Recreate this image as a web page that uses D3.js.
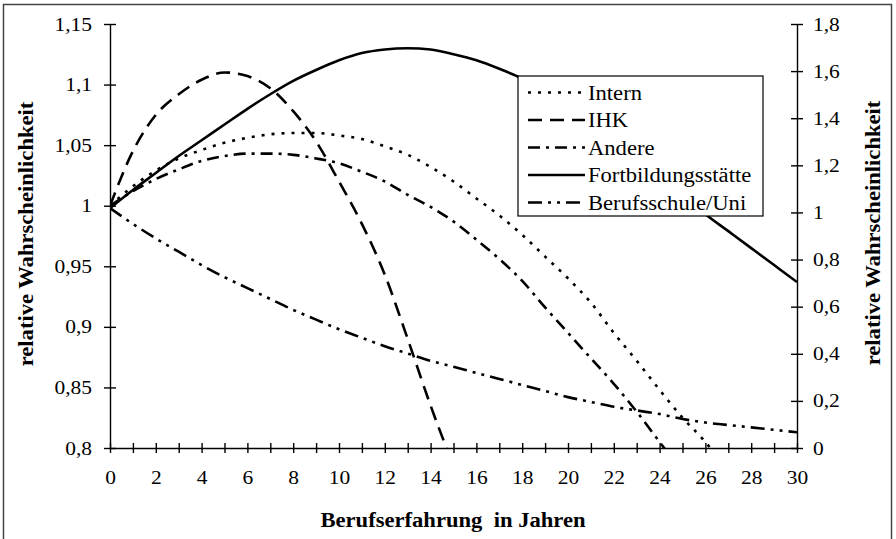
<!DOCTYPE html>
<html>
<head>
<meta charset="utf-8">
<script src="https://cdn.jsdelivr.net/npm/d3@7/dist/d3.min.js"></script>
<style>
body { margin: 0; background: #fff; }
svg text { font-family: "Liberation Serif", Tinos, "Times New Roman", "DejaVu Serif", serif !important; fill: #000; }
</style>
</head>
<body>
<script>
// values (left axis scale)
const years = [0,1,2,3,4,5,6,7,8,9,10,11,12,13,14,15,16,17,18,19,20,21,22,23,24,25,26,27,28,29,30];
const intern = [1.0,1.016,1.029,1.039,1.046,1.052,1.056,1.059,1.06,1.06,1.058,1.055,1.049,1.042,1.032,1.02,1.006,0.992,0.976,0.958,0.94,0.92,0.895,0.872,0.848,0.825,0.805,0.78];
const ihk = [1.0,1.045,1.075,1.092,1.104,1.11,1.107,1.097,1.078,1.053,1.02,0.985,0.943,0.89,0.835,0.785];
const andere = [1.0,1.012,1.022,1.03,1.037,1.041,1.043,1.043,1.042,1.039,1.035,1.028,1.02,1.009,0.999,0.987,0.972,0.956,0.938,0.916,0.895,0.874,0.853,0.83,0.805,0.78];
const fortbildung = [0.998,1.013,1.027,1.041,1.054,1.067,1.08,1.092,1.103,1.112,1.12,1.126,1.129,1.13,1.129,1.125,1.12,1.113,1.105,1.095,1.084,1.071,1.057,1.042,1.026,1.009,0.993,0.979,0.965,0.951,0.937];
const berufsschule = [0.998,0.985,0.973,0.962,0.951,0.941,0.932,0.923,0.914,0.906,0.898,0.891,0.884,0.878,0.872,0.867,0.862,0.857,0.852,0.847,0.842,0.838,0.834,0.831,0.828,0.824,0.821,0.819,0.817,0.815,0.813];
const seriesNames = ["Intern","IHK","Andere","Fortbildungsstätte","Berufsschule/Uni"];
const leftTicks = [0.8,0.85,0.9,0.95,1,1.05,1.1,1.15];
const rightTicks = [0,0.2,0.4,0.6,0.8,1,1.2,1.4,1.6,1.8];
const xLabels = [0,2,4,6,8,10,12,14,16,18,20,22,24,26,28,30];

const w = 896;
const h = 539;
const plotLeft = 110, plotRight = 797, plotTop = 24, plotBottom = 448;

const svg = d3.select("body")
  .append("svg")
  .attr("width", w)
  .attr("height", h);

// outer frame of the scanned figure
svg.append("rect")
  .attr("x", 3.5).attr("y", 4.5)
  .attr("width", 888).attr("height", 545)
  .attr("fill", "none")
  .attr("stroke", "#444")
  .attr("stroke-width", 1.5);

const xScale = d3.scaleLinear().domain([0, 30]).range([plotLeft, plotRight]);
const yScale = d3.scaleLinear().domain([0.8, 1.15]).range([plotBottom, plotTop]);
const y2Scale = d3.scaleLinear().domain([0, 1.8]).range([plotBottom, plotTop]);

const comma = d => String(+d.toFixed(2)).replace(".", ",");

function widen(sel, k) {
  sel.each(function(){
    const len = this.getComputedTextLength();
    d3.select(this).attr("textLength", len * k).attr("lengthAdjust", "spacingAndGlyphs");
  });
}

// lines
svg.append("clipPath").attr("id", "plot")
  .append("rect")
  .attr("x", plotLeft).attr("y", plotTop)
  .attr("width", plotRight - plotLeft).attr("height", plotBottom - plotTop);

const dashes = ["3,7", "14,8", "12,6,3,6", null, "14,6,3,6,3,6"];
const allSeries = [intern, ihk, andere, fortbildung, berufsschule];

const line = d3.line()
  .x((d, i) => xScale(years[i]))
  .y(d => yScale(d))
  .curve(d3.curveMonotoneX);

svg.append("g")
  .attr("clip-path", "url(#plot)")
  .selectAll("path")
  .data(allSeries)
  .enter()
  .append("path")
  .attr("d", d => line(d))
  .attr("fill", "none")
  .attr("stroke", "#000")
  .attr("stroke-width", 2.6)
  .attr("stroke-dasharray", (d, i) => dashes[i]);

// axes
const yAxis = svg.append("g")
  .attr("transform", "translate(" + plotLeft + ",0)")
  .call(d3.axisLeft(yScale).tickValues(leftTicks).tickFormat(comma).tickSize(6).tickSizeOuter(0).tickPadding(12));
yAxis.selectAll(".tick line").attr("x1", 6);

const y2Axis = svg.append("g")
  .attr("transform", "translate(" + plotRight + ",0)")
  .call(d3.axisRight(y2Scale).tickValues(rightTicks).tickFormat(comma).tickSize(6).tickSizeOuter(0).tickPadding(10));
y2Axis.selectAll(".tick line").attr("x1", -6);

const xAxis = svg.append("g")
  .attr("transform", "translate(0," + plotBottom + ")")
  .call(d3.axisBottom(xScale).tickValues(years)
    .tickFormat(d => xLabels.includes(d) ? d : "")
    .tickSize(5).tickSizeOuter(0).tickPadding(18));
xAxis.selectAll(".tick line").attr("y1", -5);

svg.selectAll(".domain, .tick line").attr("stroke", "#000").attr("stroke-width", 1.4);
svg.selectAll(".tick text")
  .style("font-size", "19px")
  .attr("fill", "#000");
widen(svg.selectAll(".tick text"), 1.13);

// titles
const titles = svg.append("g")
  .style("font-size", "20px")
  .style("font-weight", "bold");

titles.append("text")
  .attr("x", 453).attr("y", 527)
  .attr("text-anchor", "middle")
  .style("white-space", "pre")
  .text("Berufserfahrung  in Jahren");

titles.append("text")
  .attr("transform", "translate(33,234) rotate(-90)")
  .attr("text-anchor", "middle")
  .text("relative Wahrscheinlichkeit");

titles.append("text")
  .attr("transform", "translate(880,233) rotate(-90)")
  .attr("text-anchor", "middle")
  .text("relative Wahrscheinlichkeit");

widen(titles.selectAll("text"), 1.13);

// legend
const legend = svg.append("g").attr("transform", "translate(518,76)");
legend.append("rect")
  .attr("width", 245).attr("height", 140)
  .attr("fill", "#fff")
  .attr("stroke", "#000")
  .attr("stroke-width", 1.2);

const entry = legend.selectAll("g.entry")
  .data(seriesNames)
  .enter()
  .append("g")
  .attr("class", "entry")
  .attr("transform", (d, i) => "translate(0," + (16.5 + i * 27.5) + ")");

entry.append("line")
  .attr("x1", 10).attr("x2", 67)
  .attr("stroke", "#000")
  .attr("stroke-width", 2.6)
  .attr("stroke-dasharray", (d, i) => dashes[i]);

const lbl = entry.append("text")
  .attr("x", 70).attr("y", 7)
  .style("font-size", "20px")
  .text(d => d);
widen(lbl, 1.13);
</script>
</body>
</html>
